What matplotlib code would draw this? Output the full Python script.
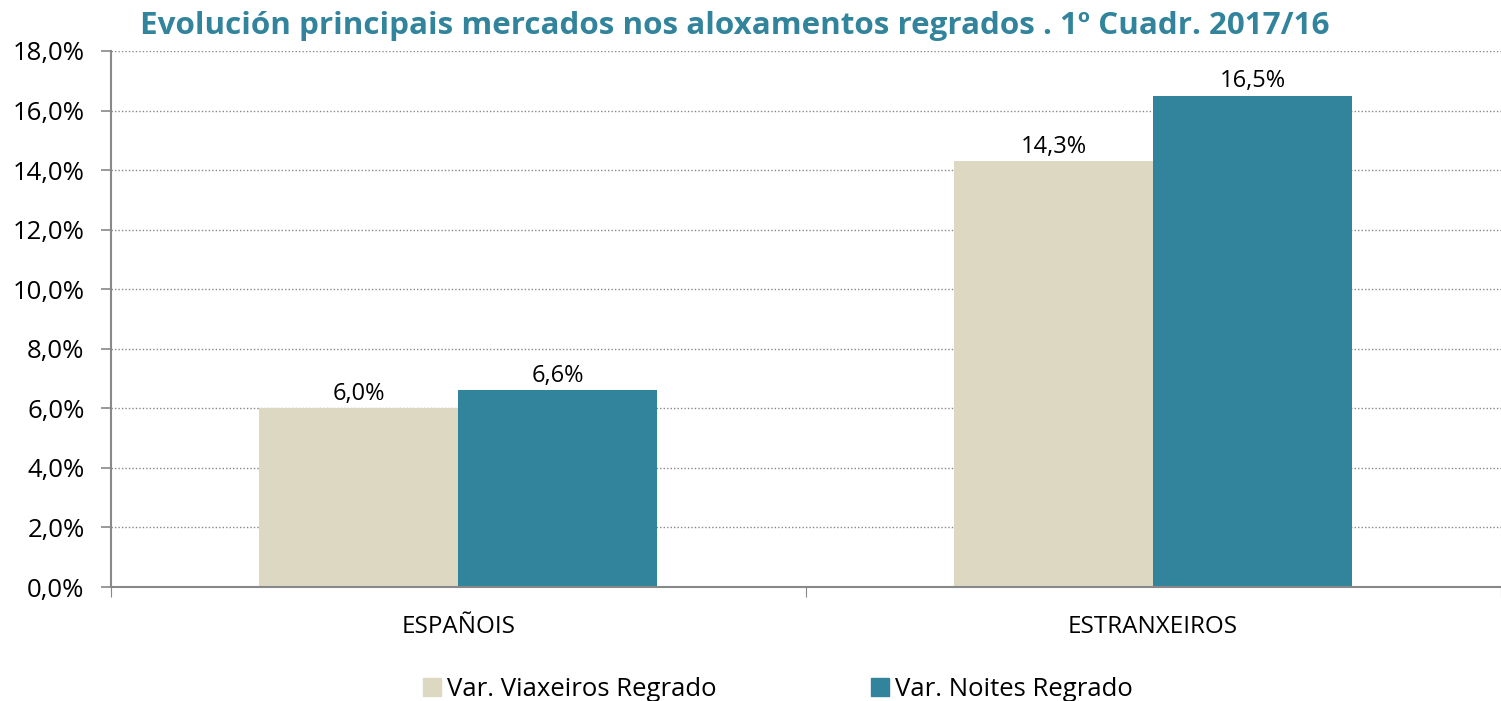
import numpy as np
import matplotlib.pyplot as plt
from matplotlib.patches import Patch

categories = ["ESPAÑOIS", "ESTRANXEIROS"]
viaxeiros = [6.0, 14.3]
noites = [6.6, 16.5]
series_names = ["Var. Viaxeiros Regrado", "Var. Noites Regrado"]
title = "Evolución principais mercados nos aloxamentos regrados . 1º Cuadr. 2017/16"

beige = "#DDD8C2"
teal = "#31849B"
font = "Open Sans"

fig = plt.figure(figsize=(15.01, 7.01), dpi=100)
ax = fig.add_axes([111/1501, 1 - 587/701, 1 - 111/1501 - 0.5/1501, (587 - 51)/701])

x = np.arange(len(categories))
w = 0.2865
b1 = ax.bar(x - w/2, viaxeiros, w, color=beige, zorder=2)
b2 = ax.bar(x + w/2, noites, w, color=teal, zorder=2)

for bars, vals in ((b1, viaxeiros), (b2, noites)):
    for r, v in zip(bars, vals):
        ax.text(r.get_x() + r.get_width()/2, v + 0.08, f"{v:.1f}%".replace(".", ","),
                ha="center", va="bottom", fontsize=17, family=font, color="black")

ax.set_xlim(-0.5, 1.5)
ax.set_ylim(0, 18)
ax.set_yticks(np.arange(0, 18.1, 2))
ax.set_yticklabels([f"{t:.1f}%".replace(".", ",") for t in np.arange(0, 18.1, 2)],
                   family=font, fontsize=18.5)
ax.grid(axis="y", color="#888888", linestyle=(0, (1, 1.5)), linewidth=1, zorder=0)

# category labels centered, ticks at the boundaries
ax.set_xticks([-0.5, 0.5, 1.5])
ax.set_xticklabels([])
ax.set_xticks(x, minor=True)
ax.set_xticklabels(categories, minor=True, family=font, fontsize=17.5)
ax.tick_params(axis="x", which="minor", length=0, pad=20)
ax.tick_params(axis="x", which="major", length=7, color="#888888", direction="out")
ax.tick_params(axis="y", length=7, color="#888888", width=1.2, pad=12)

for s in ["top", "right"]:
    ax.spines[s].set_visible(False)
for s in ["left", "bottom"]:
    ax.spines[s].set_color("#888888")
    ax.spines[s].set_linewidth(1.5)

fig.text(735/1501, 1 - 26/701, title, ha="center", va="center", family=font,
         fontsize=22.6, fontweight="bold", color=teal)

handles = [Patch(color=beige), Patch(color=teal)]
fig.legend(handles, series_names, loc="center", bbox_to_anchor=(778/1501, 1 - 689/701),
           ncol=2, frameon=False, prop={"family": font, "size": 18.5},
           handlelength=0.7, handleheight=0.7, handletextpad=0.25, columnspacing=6.0)

fig.savefig("out.png", dpi=100)
